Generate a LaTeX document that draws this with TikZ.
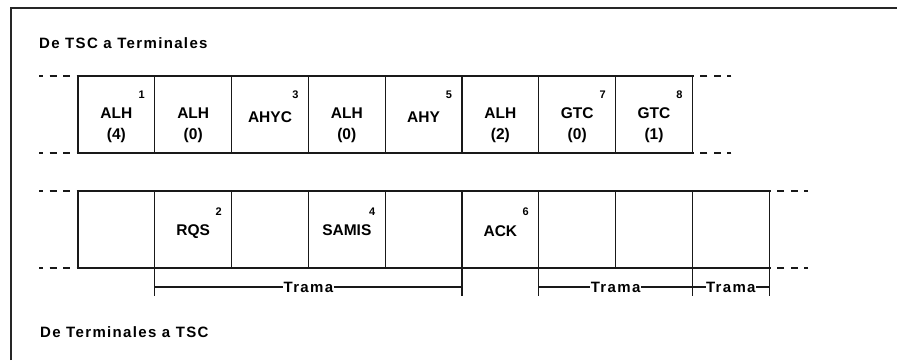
\documentclass[tikz,border=0pt]{standalone}
\usepackage{fontspec}
\setmainfont{Liberation Sans}
\newfontfamily\spaced[LetterSpace=9]{Liberation Sans}
\usetikzlibrary{calc}
\begin{document}
\begin{tikzpicture}[x=1pt,y=-1pt,
  ln/.style={line width=1.3pt, draw=black!90},
  cell/.style={ln, minimum width=76.8pt, minimum height=77pt, inner sep=0pt, outer sep=0pt, anchor=north west},
  lab/.style={font=\bfseries\fontsize{15.5}{18}\selectfont, inner sep=0pt, anchor=base},
  supr/.style={font=\bfseries\fontsize{11}{12}\selectfont, inner sep=0pt, anchor=base},
  ttl/.style={font=\spaced\bfseries\fontsize{15}{18}\selectfont, inner sep=0pt, anchor=base west},
  trama/.style={font=\spaced\bfseries\fontsize{15}{18}\selectfont, inner sep=0.3pt},
  dashline/.style={ln, dash pattern=on 7pt off 6.5pt, dash phase=3pt}]
\fill[white] (0,0) rectangle (899,360);
\useasboundingbox (0,0) rectangle (899,360);
% frame
\draw[line width=1.3pt, draw=black!85] (11,360) -- (11,8) -- (897,8);
% titles
\node[ttl] (title1) at (39,48) {De TSC a Terminales};
\node[ttl] (title2) at (40,337) {De Terminales a TSC};
% cells
\foreach \i in {1,...,8} \node[cell] (t\i) at ({78+(\i-1)*76.8},76) {};
\foreach \i in {1,...,9} \node[cell] (b\i) at ({78+(\i-1)*76.8},191) {};
% top labels
\node[lab] (l1a) at ($(t1.north)+(0,42)$) {ALH};
\node[lab] (l1b) at ($(t1.north)+(0,63)$) {(4)};
\node[lab] (l2a) at ($(t2.north)+(0,42)$) {ALH};
\node[lab] (l2b) at ($(t2.north)+(0,63)$) {(0)};
\node[lab] (l3) at ($(t3.north)+(0,46)$) {AHYC};
\node[lab] (l4a) at ($(t4.north)+(0,42)$) {ALH};
\node[lab] (l4b) at ($(t4.north)+(0,63)$) {(0)};
\node[lab] (l5) at ($(t5.north)+(0,46)$) {AHY};
\node[lab] (l6a) at ($(t6.north)+(0,42)$) {ALH};
\node[lab] (l6b) at ($(t6.north)+(0,63)$) {(2)};
\node[lab] (l7a) at ($(t7.north)+(0,42)$) {GTC};
\node[lab] (l7b) at ($(t7.north)+(0,63)$) {(0)};
\node[lab] (l8a) at ($(t8.north)+(0,42)$) {GTC};
\node[lab] (l8b) at ($(t8.north)+(0,63)$) {(1)};
% top superscripts
\node[supr] (s1) at ($(t1.north east)+(-13,22)$) {1};
\node[supr] (s3) at ($(t3.north east)+(-13,22)$) {3};
\node[supr] (s5) at ($(t5.north east)+(-13,22)$) {5};
\node[supr] (s7) at ($(t7.north east)+(-13,22)$) {7};
\node[supr] (s8) at ($(t8.north east)+(-13,22)$) {8};
% bottom labels
\node[lab] (m2) at ($(b2.north)+(0,44)$) {RQS};
\node[lab] (m4) at ($(b4.north)+(0,44)$) {SAMIS};
\node[lab] (m6) at ($(b6.north)+(0,45)$) {ACK};
\node[supr] (s2) at ($(b2.north east)+(-13,24)$) {2};
\node[supr] (s4) at ($(b4.north east)+(-13,24)$) {4};
\node[supr] (s6) at ($(b6.north east)+(-13,24)$) {6};
% dashed continuations
\coordinate (d1) at ($(t1.north west)+(-39,0)$);
\coordinate (d2) at ($(t1.south west)+(-39,0)$);
\coordinate (d3) at ($(t8.north east)+(39,0)$);
\coordinate (d4) at ($(t8.south east)+(39,0)$);
\coordinate (d5) at ($(b1.north west)+(-39,0)$);
\coordinate (d6) at ($(b1.south west)+(-39,0)$);
\coordinate (d7) at ($(b9.north east)+(39,0)$);
\coordinate (d8) at ($(b9.south east)+(39,0)$);
\draw[dashline] (d1) -- (t1.north west);
\draw[dashline] (d2) -- (t1.south west);
\draw[dashline] (d3) -- (t8.north east);
\draw[dashline] (d4) -- (t8.south east);
\draw[dashline] (d5) -- (b1.north west);
\draw[dashline] (d6) -- (b1.south west);
\draw[dashline] (d7) -- (b9.north east);
\draw[dashline] (d8) -- (b9.south east);
% ticks
\coordinate (k1) at ($(b2.south west)+(0,28)$);
\coordinate (k2) at ($(b5.south east)+(0,28)$);
\coordinate (k3) at ($(b7.south west)+(0,28)$);
\coordinate (k4) at ($(b8.south east)+(0,28)$);
\coordinate (k5) at ($(b9.south east)+(0,28)$);
\draw[ln] (b2.south west) -- (k1);
\draw[ln] (b5.south east) -- (k2);
\draw[ln] (b7.south west) -- (k3);
\draw[ln] (b8.south east) -- (k4);
\draw[ln] (b9.south east) -- (k5);
% brackets
\coordinate (h1) at ($(b2.south west)+(0,19)$);
\coordinate (h2) at ($(b5.south east)+(0,19)$);
\coordinate (h3) at ($(b7.south west)+(0,19)$);
\coordinate (h4) at ($(b8.south east)+(0,19)$);
\coordinate (h5) at ($(b9.south east)+(0,19)$);
\node[trama] (tr1) at ($(h1)!0.5!(h2)$) {Trama};
\node[trama] (tr2) at ($(h3)!0.5!(h4)$) {Trama};
\node[trama] (tr3) at ($(h4)!0.5!(h5)$) {Trama};
\draw[ln] (h1) -- (tr1);
\draw[ln] (tr1) -- (h2);
\draw[ln] (h3) -- (tr2);
\draw[ln] (tr2) -- (h4);
\draw[ln] (h4) -- (tr3);
\draw[ln] (tr3) -- (h5);
\end{tikzpicture}
\end{document}
